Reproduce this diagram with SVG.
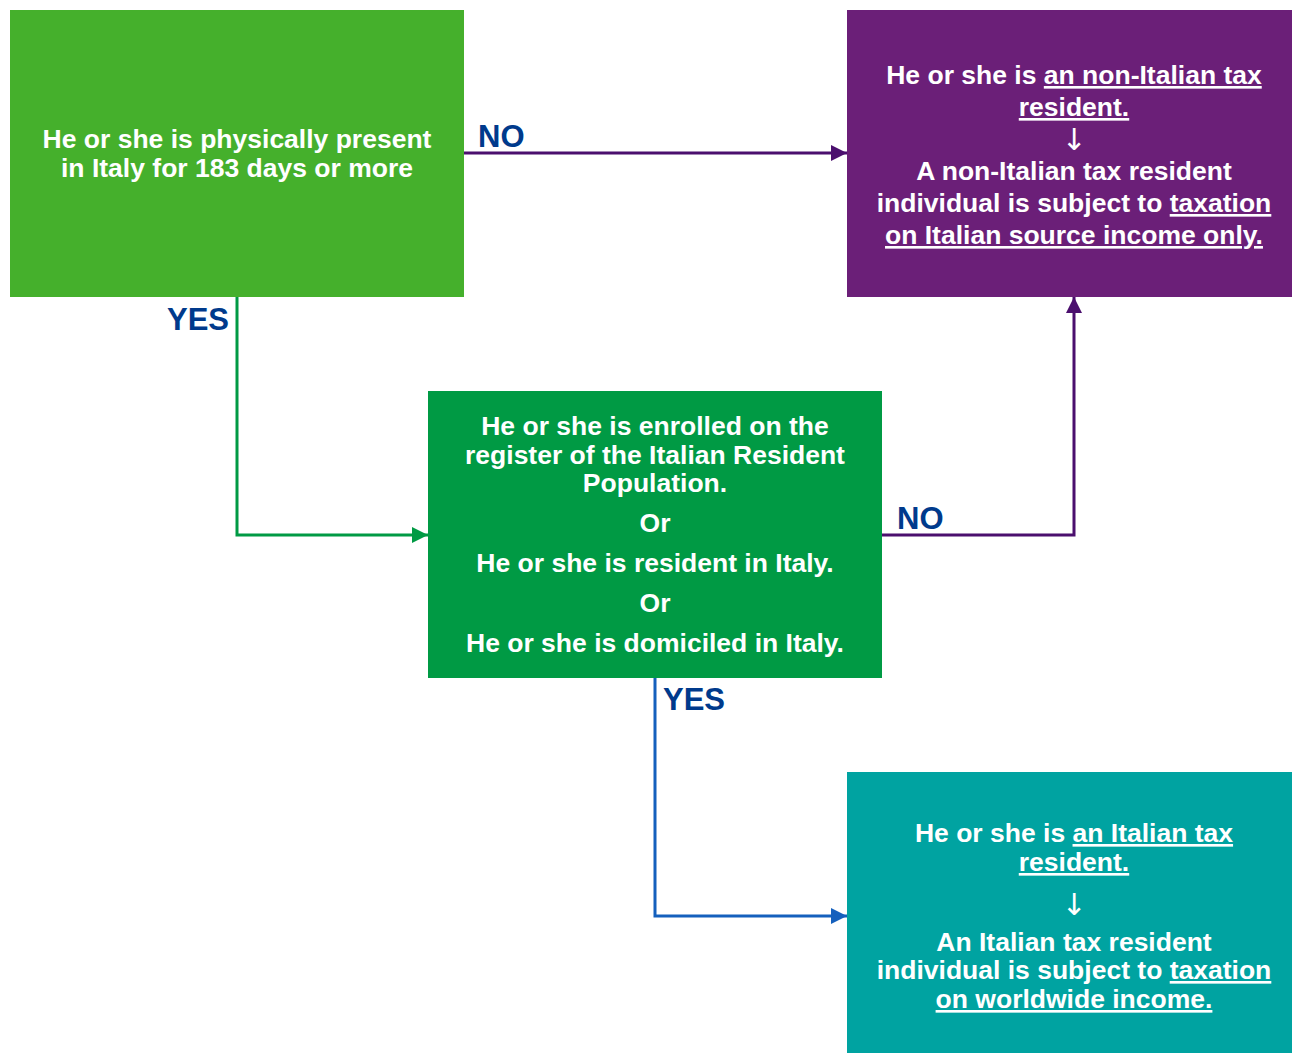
<svg xmlns="http://www.w3.org/2000/svg" width="1292" height="1053" viewBox="0 0 1292 1053">
<style>
.t{font-family:"Liberation Sans",Arial,sans-serif;font-weight:bold;font-size:26.5px;fill:#fff;text-anchor:middle}
.u{text-decoration:underline}
.ar{font-family:"DejaVu Sans",sans-serif;font-weight:normal;font-size:30px;fill:#fff;text-anchor:middle}
.lbl{font-family:"Liberation Sans",Arial,sans-serif;font-weight:bold;font-size:31px;fill:#003A8C}
.c{fill:none;stroke-width:3}
</style>
<defs>
<marker id="mp" viewBox="0 0 10 10" refX="10" refY="5" markerWidth="16" markerHeight="16" markerUnits="userSpaceOnUse" orient="auto"><path d="M0,0 L10,5 L0,10 z" fill="#4B0F6E"/></marker>
<marker id="mg" viewBox="0 0 10 10" refX="10" refY="5" markerWidth="16" markerHeight="16" markerUnits="userSpaceOnUse" orient="auto"><path d="M0,0 L10,5 L0,10 z" fill="#009A44"/></marker>
<marker id="mb" viewBox="0 0 10 10" refX="10" refY="5" markerWidth="16" markerHeight="16" markerUnits="userSpaceOnUse" orient="auto"><path d="M0,0 L10,5 L0,10 z" fill="#1560BD"/></marker>
</defs>
<rect width="1292" height="1053" fill="#fff"/>
<g id="connectors">
<path class="c" d="M464,153 H847" stroke="#4B0F6E" marker-end="url(#mp)"/>
<path class="c" d="M237,297 V535 H428" stroke="#009A44" marker-end="url(#mg)"/>
<path class="c" d="M882,535 H1074 V297" stroke="#4B0F6E" marker-end="url(#mp)"/>
<path class="c" d="M655,678 V916 H847" stroke="#1560BD" marker-end="url(#mb)"/>
<text class="lbl" x="478" y="147">NO</text>
<text class="lbl" x="167" y="330">YES</text>
<text class="lbl" x="897" y="529">NO</text>
<text class="lbl" x="663" y="710">YES</text>
</g>
<g id="node-presence">
<rect x="10" y="10" width="454" height="287" fill="#45B02C"/>
<text class="t" x="237" y="148">He or she is physically present</text>
<text class="t" x="237" y="177">in Italy for 183 days or more</text>
</g>
<g id="node-non-resident">
<rect x="847" y="10" width="445" height="287" fill="#6B1F78"/>
<text class="t" x="1074" y="84">He or she is <tspan class="u">an non-Italian tax</tspan></text>
<text class="t" x="1074" y="116"><tspan class="u">resident.</tspan></text>
<text class="ar" x="1074" y="150">↓</text>
<text class="t" x="1074" y="180">A non-Italian tax resident</text>
<text class="t" x="1074" y="212">individual is subject to <tspan class="u">taxation</tspan></text>
<text class="t" x="1074" y="244"><tspan class="u">on Italian source income only.</tspan></text>
</g>
<g id="node-registry">
<rect x="428" y="391" width="454" height="287" fill="#009A44"/>
<text class="t" x="655" y="435">He or she is enrolled on the</text>
<text class="t" x="655" y="464">register of the Italian Resident</text>
<text class="t" x="655" y="492">Population.</text>
<text class="t" x="655" y="532">Or</text>
<text class="t" x="655" y="572">He or she is resident in Italy.</text>
<text class="t" x="655" y="612">Or</text>
<text class="t" x="655" y="652">He or she is domiciled in Italy.</text>
</g>
<g id="node-resident">
<rect x="847" y="772" width="445" height="281" fill="#00A3A1"/>
<text class="t" x="1074" y="842">He or she is <tspan class="u">an Italian tax</tspan></text>
<text class="t" x="1074" y="871"><tspan class="u">resident.</tspan></text>
<text class="ar" x="1074" y="915">↓</text>
<text class="t" x="1074" y="951">An Italian tax resident</text>
<text class="t" x="1074" y="979">individual is subject to <tspan class="u">taxation</tspan></text>
<text class="t" x="1074" y="1008"><tspan class="u">on worldwide income.</tspan></text>
</g>
</svg>
